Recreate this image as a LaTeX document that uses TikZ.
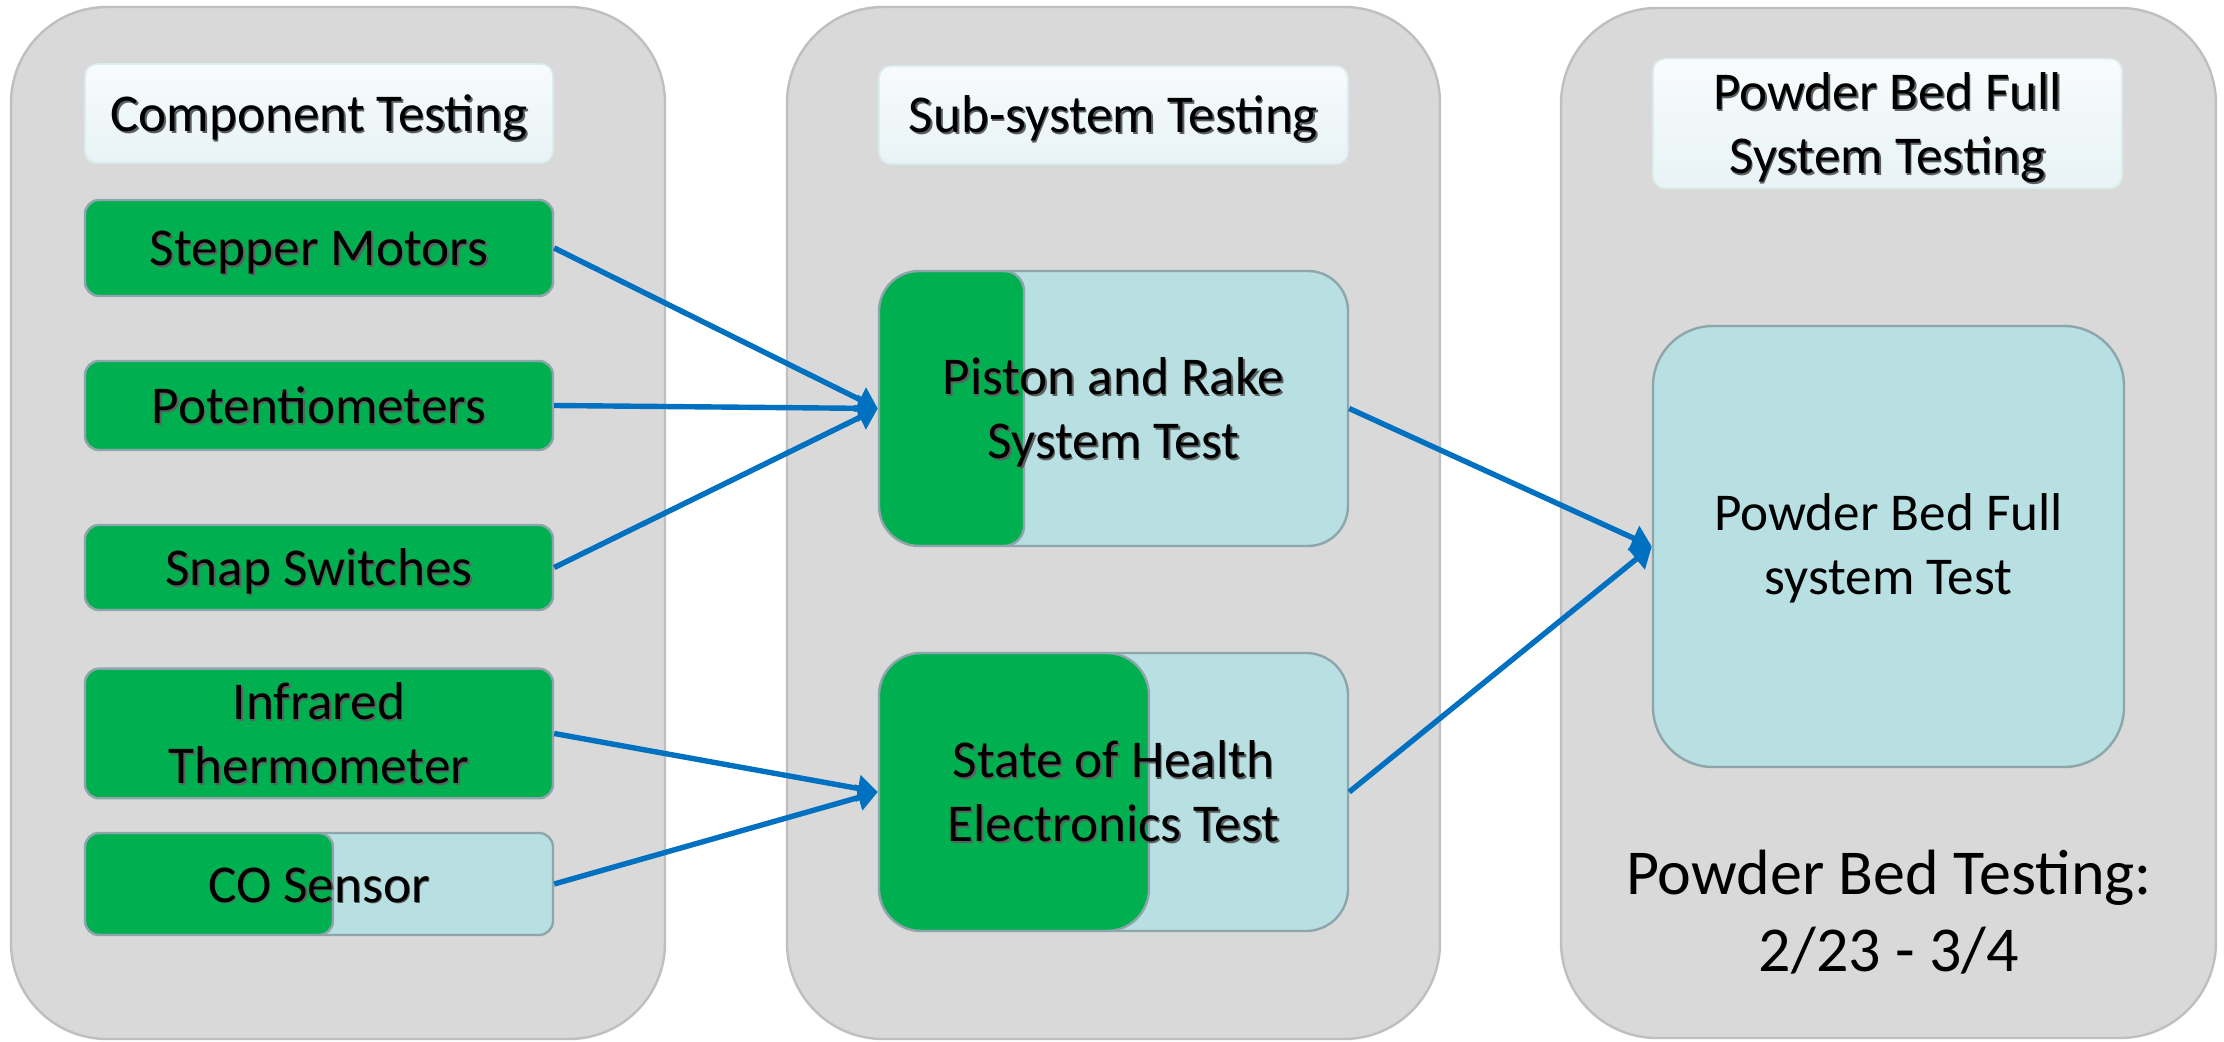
\documentclass[tikz,border=0pt]{standalone}
\usepackage{fontspec}
\setmainfont{Carlito}
\usetikzlibrary{arrows.meta}
\definecolor{panelc}{HTML}{D9D9D9}
\definecolor{panelb}{HTML}{BFBFBF}
\definecolor{grn}{HTML}{00B050}
\definecolor{lblue}{HTML}{B8DFE2}
\definecolor{edgec}{HTML}{8EA6AB}
\definecolor{arr}{HTML}{0070C0}
\definecolor{hdtop}{HTML}{F8FBFC}
\definecolor{hdbot}{HTML}{E8F3F5}
\definecolor{hdedge}{HTML}{DCEBEE}
\definecolor{shadc}{HTML}{5A5F60}
\newcommand\mytab[1]{\begin{tabular}{@{}c@{}}#1\end{tabular}}
\newcommand\shtxt[1]{\raisebox{-3pt}[\height][\depth]{\rlap{\kern0.8pt\raisebox{-0.8pt}{\textcolor{shadc}{\mytab{#1}}}}\mytab{#1}}}
\begin{document}
\begin{tikzpicture}[x=0.5pt,y=-0.5pt,
  every node/.style={font=\fontsize{26.6pt}{32pt}\selectfont, inner sep=0pt, align=center, text=black},
  panel/.style={draw=panelb, fill=panelc, line width=1.2pt, rounded corners=48pt},
  header/.style={draw=hdedge, line width=0.8pt, top color=hdtop, bottom color=hdbot, rounded corners=6pt, minimum width=234pt},
  gbox/.style={draw=edgec, fill=grn, line width=1.2pt, rounded corners=7pt, minimum width=234pt},
  bbox/.style={draw=edgec, fill=lblue, line width=1.2pt},
  greenpart/.style 2 args={path picture={\draw[draw=edgec, line width=1.2pt, fill=grn, rounded corners=#2]
     ([xshift=-40pt]path picture bounding box.south west) rectangle ([xshift=#1]path picture bounding box.north west);}},
  link/.style={draw=arr, line width=2.7pt, -{Triangle[length=10pt,width=13pt]}}
]
\useasboundingbox[fill=white] (0,0) rectangle (2224,1042);
% panels
\node[panel, minimum width=327pt, minimum height=516pt] (p1) at (338,523) {};
\node[panel, minimum width=326.5pt, minimum height=516pt] (p2) at (1113.5,523) {};
\node[panel, minimum width=327.5pt, minimum height=515pt] (p3) at (1888.5,523) {};
% component column
\node[header, minimum height=49.5pt] (hc) at (319,113.5) {\shtxt{Component Testing}};
\node[gbox, minimum height=48pt] (stepper) at (319,248) {\shtxt{Stepper Motors}};
\node[gbox, minimum height=44.5pt] (pot) at (319,405.5) {\shtxt{Potentiometers}};
\node[gbox, minimum height=42.5pt] (snap) at (319,567.5) {\shtxt{Snap Switches}};
\node[gbox, minimum height=59.5pt] (ir) at (319,733.5) {\shtxt{Infrared\\Thermometer}};
\node[bbox, rounded corners=7pt, greenpart={124pt}{7pt}, minimum width=234pt, minimum height=51pt] (co) at (319,884) {\shtxt{CO Sensor}};
% sub-system column
\node[header, minimum width=234.5pt, minimum height=49pt] (hs) at (1113.5,115) {\shtxt{Sub-system Testing}};
\node[bbox, rounded corners=20pt, greenpart={72.5pt}{10pt}, minimum width=234.5pt, minimum height=137.5pt] (piston) at (1113.5,408.5) {\shtxt{Piston and Rake\\System Test}};
\node[bbox, rounded corners=21pt, greenpart={135pt}{21pt}, minimum width=234.5pt, minimum height=139pt] (soh) at (1113.5,792) {\shtxt{State of Health\\Electronics Test}};
% full system column
\node[header, minimum width=234.5pt, minimum height=59.5pt] (hf) at (1887.5,123.5) {\shtxt{Powder Bed Full\\System Testing}};
\node[bbox, rounded corners=30pt, minimum width=235.5pt, minimum height=220.5pt] (bed) at (1888.5,546.5) {\raisebox{-1.5pt}[\height][\depth]{\mytab{Powder Bed Full\\system Test}}};
\node[font=\fontsize{32pt}{38.5pt}\selectfont] (dates) at (1889,912) {Powder Bed Testing:\\2/23 - 3/4};
% connectors
\draw[link] (stepper.east) -- (piston.west);
\draw[link] (pot.east) -- (piston.west);
\draw[link] (snap.east) -- (piston.west);
\draw[link] (ir.east) -- (soh.west);
\draw[link] (co.east) -- (soh.west);
\draw[link] (piston.east) -- (bed.west);
\draw[link] (soh.east) -- (bed.west);
\end{tikzpicture}
\end{document}
